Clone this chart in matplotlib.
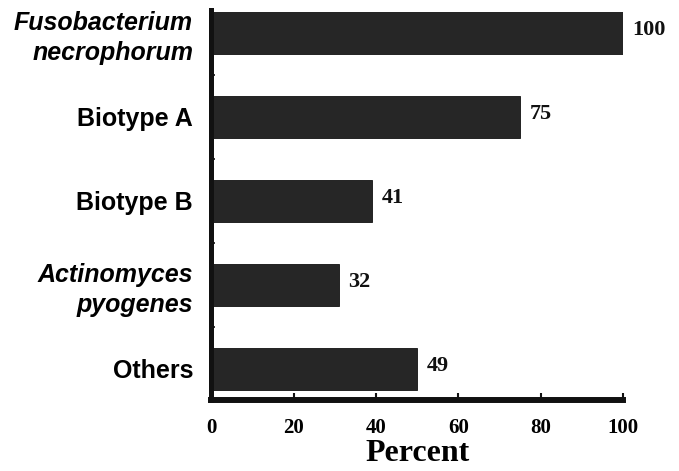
import matplotlib
matplotlib.use("Agg")
import matplotlib.pyplot as plt
from matplotlib.ticker import FixedLocator

categories = ["Fusobacterium\nnecrophorum", "Biotype A", "Biotype B",
              "Actinomyces\npyogenes", "Others"]
italic_flags = [True, False, False, True, False]
bar_values = [100, 75, 39, 31, 50]
value_labels = ["100", "75", "41", "32", "49"]
xticks = [0, 20, 40, 60, 80, 100]

fig = plt.figure(figsize=(6.79, 4.71), dpi=100)
ax = fig.add_axes([0.311, 0.151, 0.9175 - 0.311, 0.979 - 0.151])

ypos = list(range(len(categories)))
ax.barh(ypos, bar_values, height=0.5, color="#262626", edgecolor="#111111", linewidth=0.6)

ax.set_xlim(0, 100)
ax.set_ylim(4.37, -0.27)

for y, v, lab in zip(ypos, bar_values, value_labels):
    ax.annotate(lab, xy=(v, y), xytext=(7, 2), textcoords="offset points",
                ha="left", va="center", fontsize=16, fontweight="bold",
                family="Liberation Serif", color="#111111")

ax.set_yticks(ypos)
ax.set_yticklabels(categories)
for t, it in zip(ax.get_yticklabels(), italic_flags):
    t.set_family("Liberation Sans")
    t.set_fontweight("bold")
    t.set_fontsize(18)
    t.set_style("italic" if it else "normal")
    t.set_ha("right")
    t.set_multialignment("right")
    t.set_linespacing(1.3)
ax.tick_params(axis="y", which="major", length=0, pad=13)
ax.yaxis.set_minor_locator(FixedLocator([0.5, 1.5, 2.5, 3.5]))
ax.tick_params(axis="y", which="minor", direction="in", length=3, width=1.2, color="#111111")

ax.set_xticks(xticks)
ax.set_xticklabels([str(x) for x in xticks], family="Liberation Serif",
                   fontweight="bold", fontsize=15)
ax.tick_params(axis="x", which="major", direction="in", length=5, width=1.5,
               pad=13, color="#111111")

ax.set_xlabel("Percent", family="Liberation Serif", fontweight="bold",
              fontsize=23, labelpad=1)

for s in ["top", "right"]:
    ax.spines[s].set_visible(False)
ax.spines["left"].set_linewidth(3.6)
ax.spines["bottom"].set_linewidth(4.3)
ax.spines["left"].set_color("#111111")
ax.spines["bottom"].set_color("#111111")

fig.savefig("out.png", dpi=100)
